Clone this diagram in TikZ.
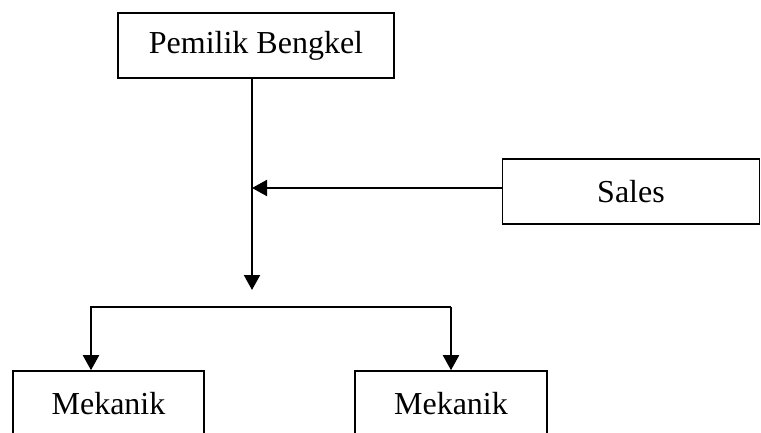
\documentclass[tikz,border=0pt]{standalone}
\usepackage{fontspec}
\setmainfont{Liberation Serif}
\usetikzlibrary{arrows.meta}

\begin{document}
\begin{tikzpicture}[x=1pt, y=-1pt,
    box/.style={draw, line width=1.6pt, minimum width=#1, minimum height=65pt,
                inner sep=0pt, font=\fontsize{32}{38}\selectfont},
    link/.style={line width=2pt, -{Triangle[length=15pt, width=16pt]}}
]
    \useasboundingbox (0,0) rectangle (761,432);
    \clip (0,0) rectangle (761,432);

    % boxes
    \node[box=276pt] (pemilik) at (256,45.5) {Pemilik Bengkel};
    \node[box=257pt] (sales) at (631,191.5) {Sales};
    \node[box=191pt] (mekanikA) at (108.5,403.5) {Mekanik};
    \node[box=192pt] (mekanikB) at (451,403.5) {Mekanik};

    % connectors
    \coordinate (trunk) at (252,290);
    \coordinate (join) at (252,188);
    \coordinate (branchA) at (91,307);
    \coordinate (branchB) at (451,307);
    \draw[link] (pemilik.south -| trunk) -- (trunk);
    \draw[link] (join -| sales.west) -- (join);
    \draw[link] (branchB) -- (branchA) -- (mekanikA.north -| branchA);
    \draw[link] (branchB) -- (mekanikB.north -| branchB);
\end{tikzpicture}
\end{document}
